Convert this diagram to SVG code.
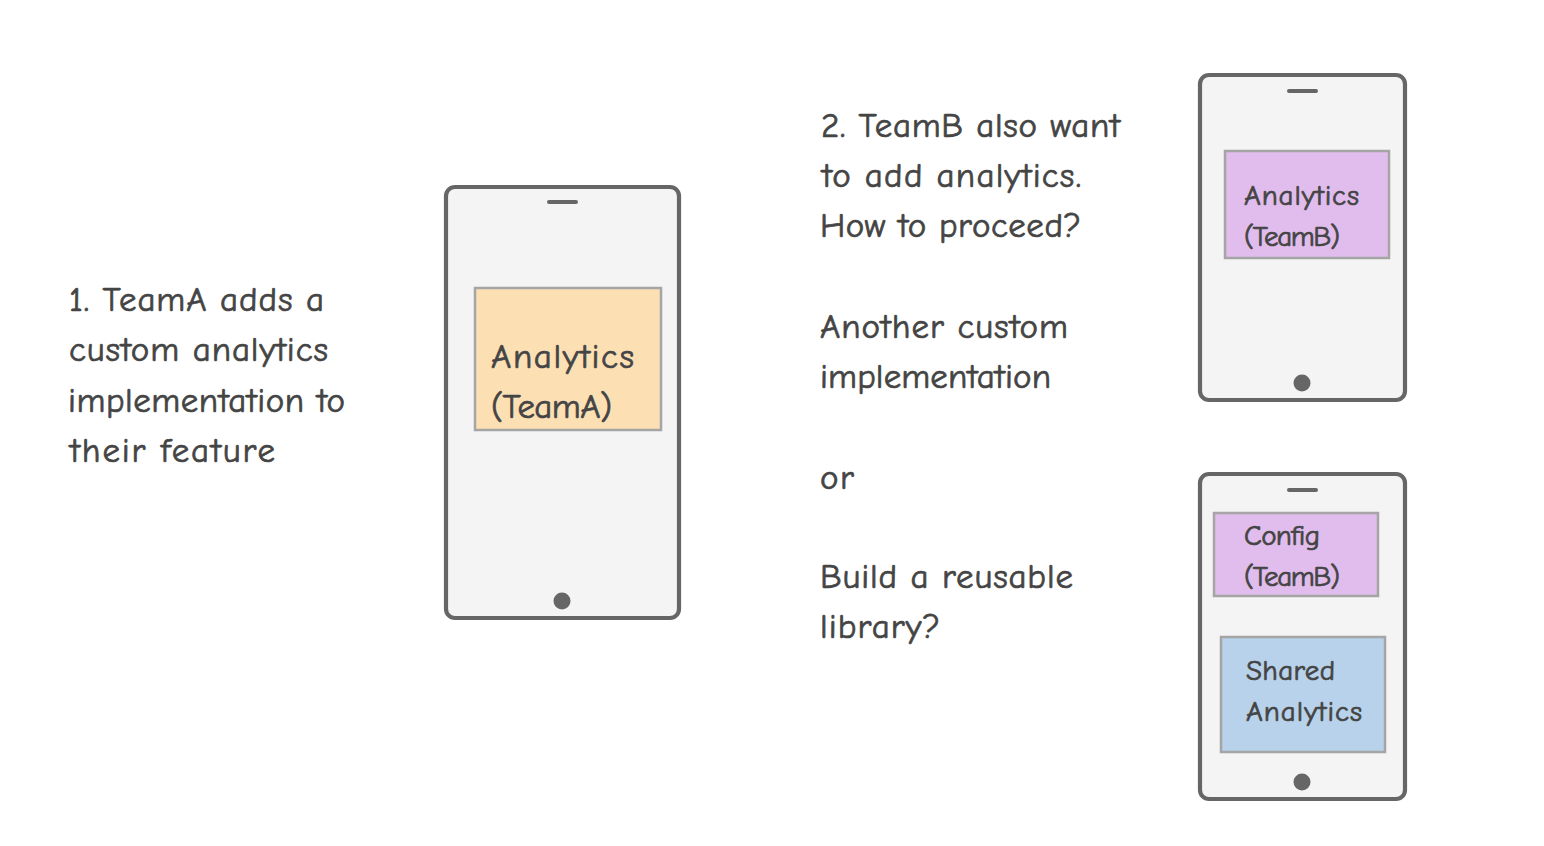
<svg xmlns="http://www.w3.org/2000/svg" width="1544" height="846" viewBox="0 0 1544 846">
<style>
.ph{fill:#f4f4f4;stroke:#666;stroke-width:4.2}
.bar{stroke:#666;stroke-width:4;stroke-linecap:round}
.dot{fill:#666}
.box{stroke:#a5a5a5;stroke-width:2.5}
text{font-family:"Comic Neue","Lato","Noto Sans",sans-serif;fill:#444;stroke:#444;stroke-width:.7px;paint-order:stroke}
.t{font-size:35px}
.m{font-size:35px}
.s{font-size:29px}
</style>
<rect width="1544" height="846" fill="#fff"/>
<g id="text-1" class="t"><text x="69" y="311" textLength="255">1. TeamA adds a</text><text x="69" y="361" textLength="259">custom analytics</text><text x="68" y="412" textLength="277">implementation to</text><text x="70" y="462" textLength="205">their feature</text></g>
<g id="phone-a"><rect class="ph" x="446" y="187" width="233" height="431" rx="9"/><line class="bar" x1="549" y1="202" x2="576" y2="202"/><circle class="dot" cx="562" cy="601" r="8.5"/>
<rect class="box" x="475" y="288" width="186" height="142" fill="#fddfb4"/><text class="m" x="491" y="368" textLength="143">Analytics</text><text class="m" x="491" y="418" textLength="121">(TeamA)</text></g>
<g id="text-2" class="t"><text x="821" y="137" textLength="299">2. TeamB also want</text><text x="822" y="187" textLength="259">to add analytics.</text><text x="820" y="237" textLength="261">How to proceed?</text><text x="820" y="338" textLength="248">Another custom</text><text x="820" y="388" textLength="231">implementation</text><text x="820" y="489" textLength="34">or</text><text x="820" y="588" textLength="253">Build a reusable</text><text x="820" y="638" textLength="120">library?</text></g>
<g id="phone-b1"><rect class="ph" x="1200" y="75" width="205" height="325" rx="9"/><line class="bar" x1="1289" y1="91" x2="1316" y2="91"/><circle class="dot" cx="1302" cy="383" r="8.5"/>
<rect class="box" x="1225" y="151" width="164" height="107" fill="#e0bdec"/><text class="s" x="1244" y="205" textLength="115">Analytics</text><text class="s" x="1244" y="246" textLength="96">(TeamB)</text></g>
<g id="phone-b2"><rect class="ph" x="1200" y="474" width="205" height="325" rx="9"/><line class="bar" x1="1289" y1="490" x2="1316" y2="490"/><circle class="dot" cx="1302" cy="782" r="8.5"/>
<rect class="box" x="1214" y="513" width="164" height="83" fill="#e0bdec"/><text class="s" x="1244" y="545" textLength="76">Config</text><text class="s" x="1244" y="586" textLength="96">(TeamB)</text>
<rect class="box" x="1221" y="637" width="164" height="115" fill="#b7d2ea"/><text class="s" x="1246" y="680" textLength="89">Shared</text><text class="s" x="1246" y="721" textLength="116">Analytics</text></g>
<g id="connectors"/>
</svg>
